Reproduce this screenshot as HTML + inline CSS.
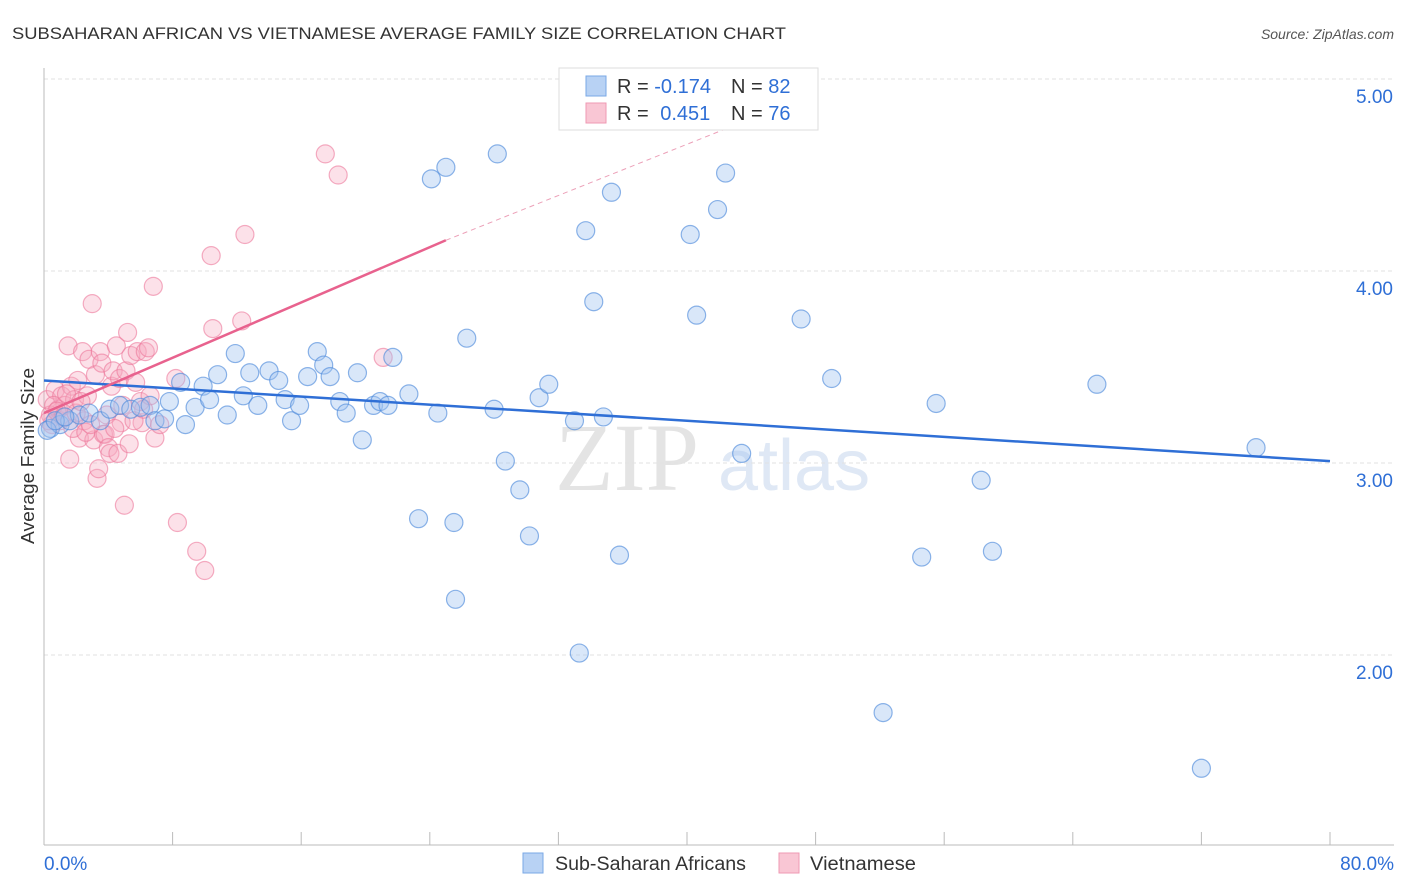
<!DOCTYPE html>
<html><head><meta charset="utf-8">
<style>
body{margin:0;background:#fff;font-family:"Liberation Sans",sans-serif;}
svg{display:block}
</style></head>
<body>
<svg id="chart" width="1406" height="892">
<text x="12" y="39" font-size="17" fill="#333" textLength="774" lengthAdjust="spacingAndGlyphs">SUBSAHARAN AFRICAN VS VIETNAMESE AVERAGE FAMILY SIZE CORRELATION CHART</text>
<text x="1394" y="39" font-size="14" fill="#555" font-style="italic" text-anchor="end">Source: ZipAtlas.com</text>
<text x="0" y="0" transform="translate(34,456) rotate(-90)" font-size="18" fill="#333" text-anchor="middle" textLength="176" lengthAdjust="spacingAndGlyphs">Average Family Size</text>
<g>
<text x="555" y="490" font-size="96" fill="#e4e4e4" font-family="Liberation Serif,serif">ZIP</text>
<text x="718" y="490" font-size="72" fill="#dfe8f5">atlas</text>
</g>
<g id="grid"></g>
<g id="axes"></g>
<g id="pts"></g>
<g id="lines"></g>
<g>
<rect x="559" y="68" width="259" height="62" fill="#fff" stroke="#ddd"/>
<rect x="586" y="76" width="20" height="20" fill="#b8d2f4" stroke="#7aa8e6"/>
<rect x="586" y="103" width="20" height="20" fill="#f9c6d4" stroke="#ef99b3"/>
<text x="617" y="93" font-size="20" fill="#333">R = <tspan fill="#2f6fd6">-0.174</tspan></text>
<text x="731" y="93" font-size="20" fill="#333">N = <tspan fill="#2f6fd6">82</tspan></text>
<text x="617" y="120" font-size="20" fill="#333">R = <tspan fill="#2f6fd6" dx="6">0.451</tspan></text>
<text x="731" y="120" font-size="20" fill="#333">N = <tspan fill="#2f6fd6">76</tspan></text>
</g>
<g>
<rect x="523" y="853" width="20" height="20" fill="#b8d2f4" stroke="#7aa8e6"/>
<text x="555" y="870" font-size="19" fill="#333" textLength="191" lengthAdjust="spacingAndGlyphs">Sub-Saharan Africans</text>
<rect x="779" y="853" width="20" height="20" fill="#f9c6d4" stroke="#ef99b3"/>
<text x="810" y="870" font-size="19" fill="#333" textLength="106" lengthAdjust="spacingAndGlyphs">Vietnamese</text>
</g>
</svg>
<script>
const yTicks=[2,3,4,5];
const yTickLabels=["2.00","3.00","4.00","5.00"];
const xTickLabels=["0.0%","80.0%"];
const blueX=[0.4,1.0,1.6,2.2,2.8,3.5,4.1,4.7,5.4,6.0,6.6,6.9,7.5,7.8,8.5,8.8,9.4,9.9,10.3,10.8,11.4,11.9,12.4,12.8,13.3,14.0,14.6,15.0,15.4,15.9,16.4,17.0,17.4,17.8,18.4,18.8,19.5,19.8,20.5,20.9,21.4,21.7,22.7,23.3,24.1,24.5,25.0,25.5,25.6,26.3,28.0,28.2,28.7,29.6,30.2,30.8,31.4,33.0,33.3,33.7,34.2,34.8,35.3,35.8,40.2,40.6,41.9,42.4,43.4,47.1,49.0,52.2,54.6,55.5,58.3,59.0,65.5,72.0,75.4,0.2,0.7,1.3];
const blueY=[3.18,3.20,3.22,3.25,3.26,3.22,3.28,3.30,3.28,3.29,3.30,3.22,3.23,3.32,3.42,3.20,3.29,3.40,3.33,3.46,3.25,3.57,3.35,3.47,3.30,3.48,3.43,3.33,3.22,3.30,3.45,3.58,3.51,3.45,3.32,3.26,3.47,3.12,3.30,3.32,3.30,3.55,3.36,2.71,4.48,3.26,4.54,2.69,2.29,3.65,3.28,4.61,3.01,2.86,2.62,3.34,3.41,3.22,2.01,4.21,3.84,3.24,4.41,2.52,4.19,3.77,4.32,4.51,3.05,3.75,3.44,1.70,2.51,3.31,2.91,2.54,3.41,1.41,3.08,3.17,3.22,3.24];
const pinkX=[0.2,0.4,0.5,0.7,0.9,1.0,1.1,1.3,1.5,1.6,1.7,1.9,2.1,2.2,2.4,2.5,2.7,2.8,3.0,3.1,3.2,3.3,3.4,3.5,3.6,3.7,3.8,4.0,4.1,4.2,4.3,4.5,4.6,4.7,4.8,5.0,5.1,5.2,5.4,5.7,5.8,6.0,6.1,6.3,6.5,6.8,6.9,8.2,8.3,9.5,10.0,10.4,10.5,12.3,12.5,17.5,18.3,21.1,0.3,0.6,0.8,1.2,1.4,1.8,2.0,2.3,2.6,2.9,3.9,4.4,4.9,5.3,5.6,6.2,6.6,7.2];
const pinkY=[3.33,3.25,3.20,3.38,3.28,3.22,3.35,3.30,3.61,3.02,3.40,3.33,3.43,3.13,3.58,3.22,3.35,3.54,3.83,3.12,3.46,2.92,2.97,3.58,3.52,3.15,3.15,3.08,3.05,3.40,3.48,3.61,3.05,3.44,3.21,2.78,3.48,3.68,3.56,3.42,3.58,3.32,3.21,3.58,3.60,3.92,3.13,3.44,2.69,2.54,2.44,4.08,3.70,3.74,4.19,4.61,4.50,3.55,3.22,3.30,3.27,3.24,3.36,3.18,3.26,3.32,3.16,3.20,3.25,3.18,3.30,3.10,3.22,3.28,3.35,3.20];
const blueTrend=[0,3.43,80,3.01];
const pinkTrend=[0,3.26,25,4.16,43.3,4.77];
const X0=44,X1=1330,YB=463,PPU=192;
function sx(v){return X0+(v/80)*(X1-X0);}
function sy(v){return YB-(v-3)*PPU;}
const NS="http://www.w3.org/2000/svg";
function mk(t,a,p){const e=document.createElementNS(NS,t);for(const k in a)e.setAttribute(k,a[k]);p.appendChild(e);return e;}
const grid=document.getElementById('grid'),axes=document.getElementById('axes'),pts=document.getElementById('pts'),lines=document.getElementById('lines');
yTicks.forEach((t,i)=>{
 const g=mk('line',{x1:X0,x2:1394,y1:sy(t),y2:sy(t),stroke:'#e2e2e2','stroke-dasharray':'4,3'},grid);
 
 
 const l=mk('text',{x:1393,y:sy(t)+24,'font-size':19,fill:'#2f6fd6','text-anchor':'end'},axes);
 l.textContent=yTickLabels[i];
 
 
});
const ya=mk('line',{x1:X0,x2:X0,y1:68,y2:845,stroke:'#bbb'},axes);


const xa=mk('line',{x1:X0,x2:1394,y1:845,y2:845,stroke:'#bbb'},axes);


for(let i=0;i<=10;i++){
 const t=mk('line',{x1:sx(i*8),x2:sx(i*8),y1:832,y2:845,stroke:'#bbb'},axes);
 
 
}
const xl0=mk('text',{x:44,y:870,'font-size':19,fill:'#2f6fd6'},axes);
xl0.textContent=xTickLabels[0];


const xl1=mk('text',{x:1394,y:870,'font-size':19,fill:'#2f6fd6','text-anchor':'end'},axes);
xl1.textContent=xTickLabels[1];


pinkX.forEach((x,i)=>{
 const c=mk('circle',{cx:sx(x),cy:sy(pinkY[i]),r:9,fill:'rgba(246,170,192,0.35)',stroke:'rgba(236,120,155,0.6)','stroke-width':1.2},pts);
 
 
});
blueX.forEach((x,i)=>{
 const c=mk('circle',{cx:sx(x),cy:sy(blueY[i]),r:9,fill:'rgba(160,196,240,0.4)',stroke:'rgba(80,140,220,0.65)','stroke-width':1.2},pts);
 
 
});
const bl=mk('line',{x1:sx(blueTrend[0]),y1:sy(blueTrend[1]),x2:sx(blueTrend[2]),y2:sy(blueTrend[3]),stroke:'#2f6fd6','stroke-width':2.5},lines);


const pl=mk('line',{x1:sx(pinkTrend[0]),y1:sy(pinkTrend[1]),x2:sx(pinkTrend[2]),y2:sy(pinkTrend[3]),stroke:'#e8628e','stroke-width':2.5},lines);


const pd=mk('line',{x1:sx(pinkTrend[2]),y1:sy(pinkTrend[3]),x2:sx(pinkTrend[4]),y2:sy(pinkTrend[5]),stroke:'#eca0b8','stroke-width':1,'stroke-dasharray':'5,4'},lines);


</script>
</body></html>
